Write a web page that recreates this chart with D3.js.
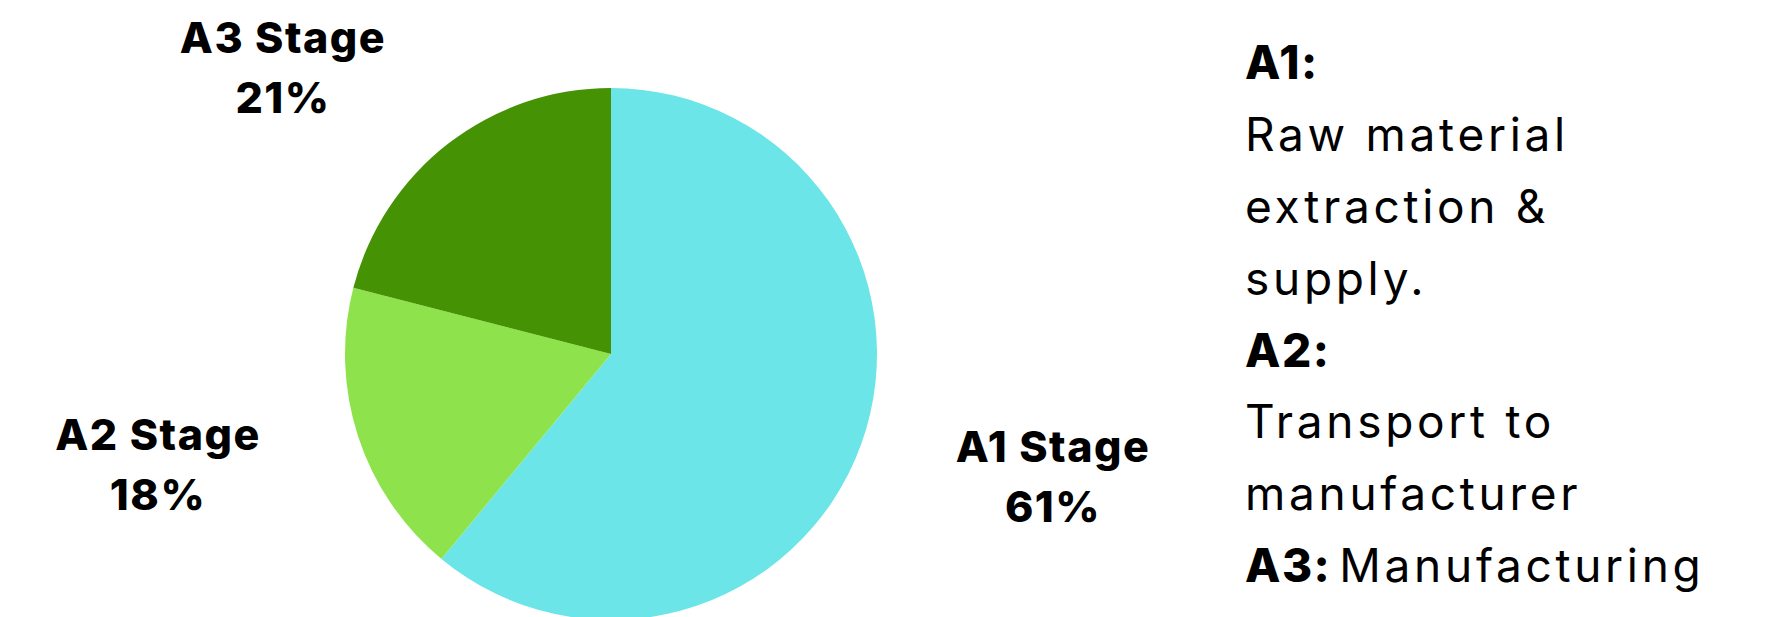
<!DOCTYPE html>
<html>
<head>
<meta charset="utf-8">
<script src="https://cdn.jsdelivr.net/npm/d3@7"></script>
<style>
  html, body { margin: 0; padding: 0; background: #ffffff; }
  svg { display: block; }
</style>
</head>
<body>
<svg id="chart" width="1775" height="617"></svg>
<script>
// Life-cycle stage shares (percent)
const stages = ["A1 Stage", "A2 Stage", "A3 Stage"];
const shares = [61, 18, 21];
const colors = ["#6ce5e8", "#8ee34d", "#459204"];

// Legend text: bold key, then description lines
const legendKeys = ["A1:", "A2:", "A3:"];
const legendText = [
  ["Raw material", "extraction &", "supply."],
  ["Transport to", "manufacturer"],
  ["Manufacturing"]
];

const W = 1775, H = 617;
const cx = 611, cy = 354, radius = 266;

const svg = d3.select("#chart");

const data = stages.map((s, i) => ({ stage: s, value: shares[i], color: colors[i] }));

const pie = d3.pie().value(d => d.value).sort(null);
const arc = d3.arc().innerRadius(0).outerRadius(radius);

const g = svg.append("g").attr("transform", `translate(${cx},${cy})`);
g.selectAll("path")
  .data(pie(data))
  .join("path")
  .attr("d", arc)
  .attr("fill", d => d.data.color);

// Slice labels placed around the pie
const labelAnchors = [[1053, 462], [158, 450], [283, 53]];
const labelFont = "Inter, 'DejaVu Sans', sans-serif";
const lbl = svg.append("g")
  .selectAll("text")
  .data(data)
  .join("text")
  .attr("text-anchor", "middle")
  .attr("font-family", labelFont)
  .attr("font-weight", 800)
  .attr("font-size", 43)
  .attr("letter-spacing", 1.5)
  .attr("fill", "#000");
lbl.each(function(d, i) {
  const t = d3.select(this);
  const [x, y] = labelAnchors[i];
  t.append("tspan").attr("x", x).attr("y", y).text(d.stage);
  t.append("tspan").attr("x", x).attr("y", y + 60).text(d3.format("d")(d.value) + "%");
});

// Legend on the right
const legX = 1245, legY0 = 79.3, lineGap = 71.8;
let row = 0;
const leg = svg.append("g")
  .attr("font-family", "Inter, 'DejaVu Sans', sans-serif")
  .attr("font-size", 46)
  .attr("letter-spacing", 3.7)
  .attr("fill", "#000");
legendKeys.forEach((k, i) => {
  const lines = legendText[i];
  if (lines.length === 1) {
    const t = leg.append("text").attr("x", legX).attr("y", legY0 + row * lineGap);
    t.append("tspan").attr("font-weight", 800).attr("letter-spacing", 1.5).text(k);
    t.append("tspan").attr("dx", 8).text(lines[0]);
    row += 1;
  } else {
    leg.append("text").attr("x", legX).attr("y", legY0 + row * lineGap)
      .attr("font-weight", 800).attr("letter-spacing", 1.5).text(k);
    row += 1;
    lines.forEach(l => {
      leg.append("text").attr("x", legX).attr("y", legY0 + row * lineGap).text(l);
      row += 1;
    });
  }
});
</script>
</body>
</html>
